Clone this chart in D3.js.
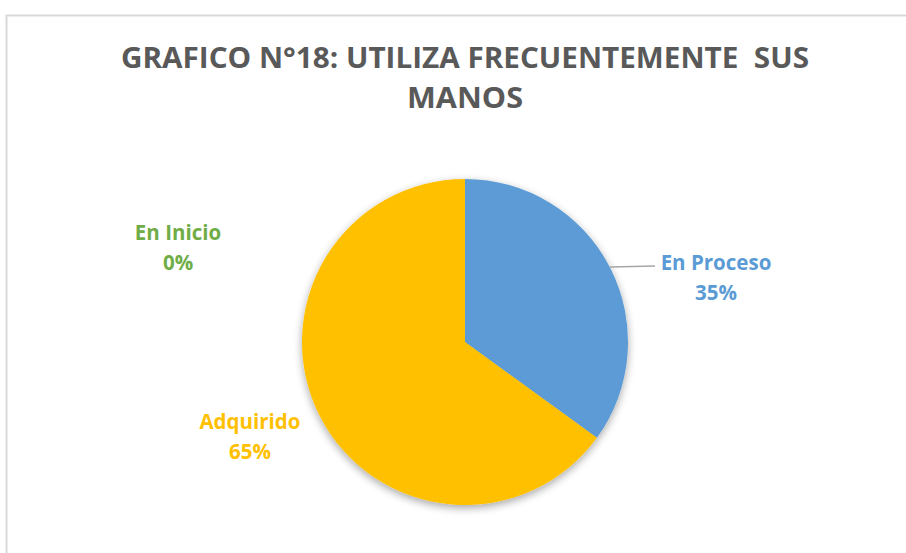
<!DOCTYPE html>
<html>
<head>
<meta charset="utf-8">
<script src="https://cdn.jsdelivr.net/npm/d3@7"></script>
<style>
  body { margin: 0; background: #fff; }
  svg { display: block; }
</style>
</head>
<body>
<div id="chart"></div>
<script>
const categories = ['En Proceso', 'Adquirido', 'En Inicio'];
const values = [35, 65, 0];
const colors = ['#5B9BD5', '#FFC000', '#70AD47'];
const titleLines = ['GRAFICO N°18: UTILIZA FRECUENTEMENTE  SUS', 'MANOS'];

const width = 906, height = 553;
const cx = 465, cy = 342, radius = 163;

const svg = d3.select('#chart').append('svg')
    .attr('width', width)
    .attr('height', height);

// chart frame
svg.append('path')
    .attr('d', `M6.5,${height} V15.5 H${width}`)
    .attr('fill', 'none')
    .attr('stroke', '#d9d9d9')
    .attr('stroke-width', 2);

// soft shadow under the pie
const defs = svg.append('defs');
const f = defs.append('filter').attr('id', 'shadow')
    .attr('x', '-20%').attr('y', '-20%').attr('width', '140%').attr('height', '140%');
f.append('feGaussianBlur').attr('in', 'SourceAlpha').attr('stdDeviation', 4);
f.append('feOffset').attr('dx', 0).attr('dy', 3).attr('result', 'b');
f.append('feComponentTransfer').append('feFuncA').attr('type', 'linear').attr('slope', 0.35);
const m = f.append('feMerge');
m.append('feMergeNode');
m.append('feMergeNode').attr('in', 'SourceGraphic');

// title
svg.selectAll('.title')
    .data(titleLines)
    .enter().append('text')
    .attr('class', 'title')
    .attr('x', 465)
    .attr('y', (d, i) => 68 + i * 40)
    .attr('text-anchor', 'middle')
    .attr('font-family', '"Liberation Sans Narrow", "Open Sans", sans-serif')
    .attr('font-weight', 'bold')
    .attr('font-size', 29)
    .attr('fill', '#595959')
    .style('white-space', 'pre')
    .attr('textLength', (d, i) => i === 0 ? 688 : 116)
    .attr('lengthAdjust', 'spacingAndGlyphs')
    .text(d => d);

const data = categories.map((c, i) => ({name: c, value: values[i], color: colors[i]}));

const pie = d3.pie().sort(null).value(d => d.value);
const arc = d3.arc().innerRadius(0).outerRadius(radius);

const g = svg.append('g')
    .attr('transform', `translate(${cx},${cy})`);

g.append('g').attr('filter', 'url(#shadow)')
    .selectAll('path')
    .data(pie(data).filter(d => d.value > 0))
    .enter().append('path')
    .attr('d', arc)
    .attr('fill', d => d.data.color);

// label anchor points relative to pie centre
const labelPos = [[251, -72], [-215, 87], [-287, -102]];

// leader line for En Proceso, from the slice edge to its label
const y0 = -75;
const x0 = Math.sqrt(radius * radius - y0 * y0);
g.append('line')
    .attr('x1', x0).attr('y1', y0)
    .attr('x2', 190).attr('y2', y0 - 1)
    .attr('stroke', '#a6a6a6')
    .attr('stroke-width', 1.3);

data.forEach((d, i) => {
    const t = g.append('text')
        .attr('x', labelPos[i][0])
        .attr('y', labelPos[i][1])
        .attr('text-anchor', 'middle')
        .attr('font-family', '"Open Sans", sans-serif')
        .attr('font-weight', 'bold')
        .attr('font-size', 20.5)
        .attr('fill', d.color);
    t.append('tspan').attr('x', labelPos[i][0]).attr('dy', 0).text(d.name);
    t.append('tspan').attr('x', labelPos[i][0]).attr('dy', 30).text(d.value + '%');
});
</script>
</body>
</html>
